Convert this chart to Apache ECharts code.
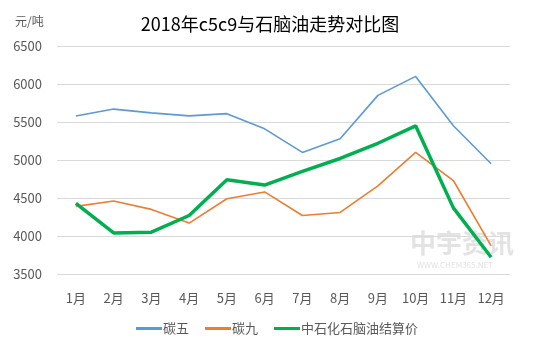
<!DOCTYPE html>
<html><head><meta charset="utf-8">
<script src="https://cdn.jsdelivr.net/npm/echarts@6/dist/echarts.min.js"></script>
<style>html,body{margin:0;padding:0;background:#fff}#c{width:554px;height:351px}</style>
</head><body><div id="c"></div>
<script>
const categories = ['1月','2月','3月','4月','5月','6月','7月','8月','9月','10月','11月','12月'];
const c5 = [5580, 5670, 5620, 5580, 5610, 5410, 5100, 5280, 5850, 6100, 5450, 4950];
const c9 = [4390, 4460, 4350, 4170, 4490, 4580, 4270, 4310, 4660, 5100, 4730, 3870];
const naphtha = [4430, 4040, 4050, 4270, 4740, 4670, 4850, 5020, 5220, 5450, 4370, 3720];
const seriesNames = ['碳五', '碳九', '中石化石脑油结算价'];

const font = '"Noto Sans CJK SC", sans-serif';
const chart = echarts.init(document.getElementById('c'), null, {renderer: 'canvas'});
chart.setOption({
  animation: false,
  backgroundColor: '#fff',
  textStyle: {fontFamily: font},
  title: {text: '2018年c5c9与石脑油走势对比图', left: 265, top: 10, textAlign: 'center',
    textStyle: {fontSize: 18, fontWeight: 'normal', color: '#000', fontFamily: font}},
  graphic: [
    {type: 'text', left: 15, top: 15, style: {text: '元/吨', fontSize: 12, fill: '#595959', fontFamily: font}},
    {type: 'text', left: 410, top: 230, z: -1, style: {text: '中宇资讯', fontSize: 26, fontWeight: 'bold', fill: '#e3e3e3', fontFamily: font}},
    {type: 'text', left: 417, top: 261, z: -1, style: {text: 'WWW.CHEM365.NET', fontSize: 8, fill: '#e3e3e3', fontFamily: font}}
  ],
  legend: {bottom: 11, left: 'center', itemWidth: 26, itemHeight: 3, itemGap: 16,
    icon: 'rect',
    textStyle: {fontSize: 13, color: '#595959', fontFamily: font, padding: [0,0,0,-4]},
    data: seriesNames},
  grid: {left: 57, right: 44, top: 46, bottom: 77},
  xAxis: {type: 'category', data: categories, boundaryGap: true,
    axisLine: {show: false}, axisTick: {show: false},
    axisLabel: {fontSize: 13, color: '#595959', margin: 18}},
  yAxis: {type: 'value', min: 3500, max: 6500, interval: 500,
    axisLine: {show: false}, axisTick: {show: false},
    axisLabel: {fontSize: 13, color: '#595959', margin: 15, formatter: v => String(v)},
    splitLine: {lineStyle: {color: '#d9d9d9', width: 1}}},
  series: [
    {name: seriesNames[0], type: 'line', data: c5, symbol: 'none', color: '#5B9BD5', lineStyle: {width: 1.6}},
    {name: seriesNames[1], type: 'line', data: c9, symbol: 'none', color: '#ED7D31', lineStyle: {width: 1.6}},
    {name: seriesNames[2], type: 'line', data: naphtha, symbol: 'none', color: '#00B050', lineStyle: {width: 3.5}}
  ]
});
</script></body></html>
